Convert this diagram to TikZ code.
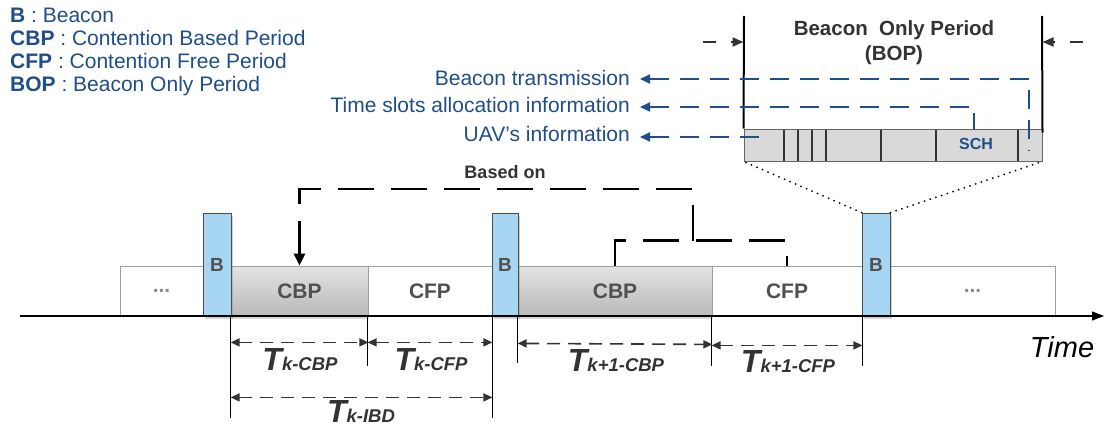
\documentclass[tikz,border=0pt]{standalone}
\usepackage{fontspec}
\setmainfont{Liberation Sans}
\usetikzlibrary{arrows.meta,calc,shadows}
\definecolor{txtblue}{RGB}{31,78,137}
\definecolor{bblue}{RGB}{166,214,242}
\definecolor{dgray}{RGB}{51,51,51}
\definecolor{lblgray}{RGB}{80,80,80}
\definecolor{slotgray}{RGB}{217,217,217}
\begin{document}
\begin{tikzpicture}[x=1pt,y=-1pt,
  legend/.style={anchor=base west, inner sep=0pt, text=txtblue, font=\fontsize{21}{24}\selectfont},
  info/.style={anchor=east, inner sep=0pt, text=txtblue, font=\fontsize{21}{24}\selectfont},
  blk/.style={draw=gray!75, line width=0.8pt, inner sep=0pt, minimum height=50pt,
    font=\fontsize{21}{21}\selectfont\bfseries, text=lblgray},
  plainblk/.style={blk, fill=white},
  dotsblk/.style={blk, fill=white, text=gray!90},
  cbpblk/.style={blk, top color=gray!22, bottom color=gray!55,
    drop shadow={opacity=0.3, shadow xshift=1pt, shadow yshift=-3pt}},
  bcn/.style={draw=gray!60!black, line width=0.8pt, fill=bblue, inner sep=0pt,
    minimum height=103pt, font=\fontsize{19}{19}\selectfont\bfseries, text=lblgray,
    drop shadow={opacity=0.35, shadow xshift=2pt, shadow yshift=-3pt}},
  tick/.style={line width=0.9pt, black},
  dim/.style={line width=1.6pt, dgray, dash pattern=on 13pt off 8pt,
    {Triangle[length=9pt,width=8pt]}-{Triangle[length=9pt,width=8pt]}},
  tlab/.style={anchor=base, inner sep=0pt, text=dgray},
  bigdash/.style={line width=2.8pt, black, dash pattern=on 36pt off 17pt},
  dotline/.style={line width=2pt, black, line cap=round, dash pattern=on 0pt off 6pt},
  slotbox/.style={draw=gray!80!black, line width=1pt, fill=slotgray, inner sep=0pt,
    minimum width=298pt, minimum height=32pt},
  slotline/.style={line width=1.5pt, dgray},
  bopline/.style={line width=2pt, black},
  gdash/.style={line width=1.8pt, dgray, dash pattern=on 13pt off 15pt},
  bluedash/.style={line width=1.9pt, txtblue, dash pattern=on 19pt off 11pt},
  bluetip/.style={{Triangle[length=10pt,width=9pt]}-}
]
\useasboundingbox[fill=white] (0,0) rectangle (1105,428);

% legend
\node[legend] (l1) at (10,23) {\textbf{B} : Beacon};
\node[legend] (l2) at (10,46) {\textbf{CBP} : Contention Based Period};
\node[legend] (l3) at (10,69) {\textbf{CFP} : Contention Free Period};
\node[legend] (l4) at (10,92) {\textbf{BOP} : Beacon Only Period};

% timeline blocks
\node[dotsblk, minimum width=83pt] (D1) at (161.5,291) {...};
\node[cbpblk, minimum width=137pt] (CBP1) at (299.5,291) {CBP};
\node[plainblk, minimum width=124pt] (CFP1) at (430,291) {CFP};
\node[cbpblk, minimum width=194pt] (CBP2) at (615,291) {CBP};
\node[plainblk, minimum width=150pt] (CFP2) at (787,291) {CFP};
\node[dotsblk, minimum width=165pt] (D2) at (972.5,291) {...};
\node[bcn, minimum width=28pt] (B1) at (217,264.5) {B};
\node[bcn, minimum width=26pt] (B2) at (505,264.5) {B};
\node[bcn, minimum width=28pt] (B3) at (876,264.5) {B};

% time axis
\coordinate (ax0) at (20,316);
\coordinate (ax1) at (1104,316);
\draw[line width=1.3pt, -{Triangle[length=12pt,width=9pt]}] (ax0) -- (ax1);
\node[anchor=base, inner sep=0pt, font=\fontsize{29}{29}\selectfont\itshape] (time) at (1062,357) {Time};

% ticks under the axis
\draw[tick] (CBP1.south west) -- ++(0,102);
\draw[tick] (CFP1.south west) -- ++(0,50);
\draw[tick] (CFP1.south east) -- ++(0,102);
\draw[tick] (CBP2.south west) -- ++(0,47);
\draw[tick] (CFP2.south west) -- ++(0,50);
\draw[tick] (CFP2.south east) -- ++(0,50);

% durations
\draw[dim] ($(CBP1.south west)+(0,26)$) -- ($(CBP1.south east)+(0,26)$);
\draw[dim] ($(CFP1.south west)+(0,26)$) -- ($(CFP1.south east)+(0,26)$);
\draw[dim] ($(CBP2.south west)+(0,27)$) -- ($(CBP2.south east)+(0,28)$);
\draw[dim] ($(CFP2.south west)+(0,29)$) -- ($(CFP2.south east)+(0,29)$);
\draw[dim] ($(CBP1.south west)+(0,81)$) -- ($(CFP1.south east)+(0,81)$);
\newcommand\Tlabel[1]{{\fontsize{32}{32}\selectfont\bfseries\itshape T}{\fontsize{18.5}{18.5}\selectfont\bfseries\itshape #1}}
\node[tlab] (t1) at (300,370) {\Tlabel{k-CBP}};
\node[tlab] (t2) at (431,370) {\Tlabel{k-CFP}};
\node[tlab] (t3) at (616,371) {\Tlabel{k+1-CBP}};
\node[tlab] (t4) at (788,372) {\Tlabel{k+1-CFP}};
\node[tlab] (t5) at (361,422) {\Tlabel{k-IBD}};

% based on
\node[inner sep=0pt, text=dgray, font=\fontsize{18}{18}\selectfont\bfseries] (based) at (505,172) {Based on};
\coordinate (join) at (693,241);
\draw[bigdash] (CBP2.north) -- ++(0,-25) -| (CFP2.north);
\draw[bigdash, -{Triangle[length=12pt,width=11pt]}] (join) -- (693,189) -| (CBP1.north);

% BOP detail
\node[slotbox] (bop) at (893,145) {};
\foreach \x in {784,798,812,826,881,936,1018}
  \draw[slotline] (\x,129.5) -- (\x,160.5);
\node[inner sep=0pt, text=txtblue, font=\fontsize{16}{16}\selectfont\bfseries] (sch) at (976,144) {SCH};
\draw[bopline] (bop.north west) -- (744,16);
\draw[bopline] ($(bop.north east)+(0,4)$) -- (1042,16);
\draw[gdash, -{Triangle[length=11pt,width=9pt]}] (703,42) -- (bop.north west |- 0,42);
\draw[gdash, -{Triangle[length=11pt,width=9pt]}] (1083,42) -- (bop.north east |- 0,42);
\node[align=center, inner sep=0pt, text=dgray, font=\fontsize{20.5}{25}\selectfont\bfseries] (bopt) at (894,43) {Beacon\ \ Only Period\\(BOP)};
\draw[dotline] (B3.north west) -- (bop.south west);
\draw[dotline] (B3.north east) -- (bop.south east);

% information pointers
\node[info] (bt) at (630,78) {Beacon transmission};
\node[info] (ts) at (630,105) {Time slots allocation information};
\node[info] (uav) at (630,134) {UAV's information};
\coordinate (btend) at (1029,150);
\coordinate (tsend) at (974,130);
\coordinate (uavend) at (761,137);
\draw[bluedash, bluetip] ($(bt.east)+(10,1)$) -- (btend |- 0,79) -- (btend);
\draw[bluedash, bluetip] ($(ts.east)+(10,2)$) -- (tsend |- 0,107) -- (tsend);
\draw[bluedash, bluetip] ($(uav.east)+(10,3)$) -- (uavend);
\end{tikzpicture}
\end{document}
